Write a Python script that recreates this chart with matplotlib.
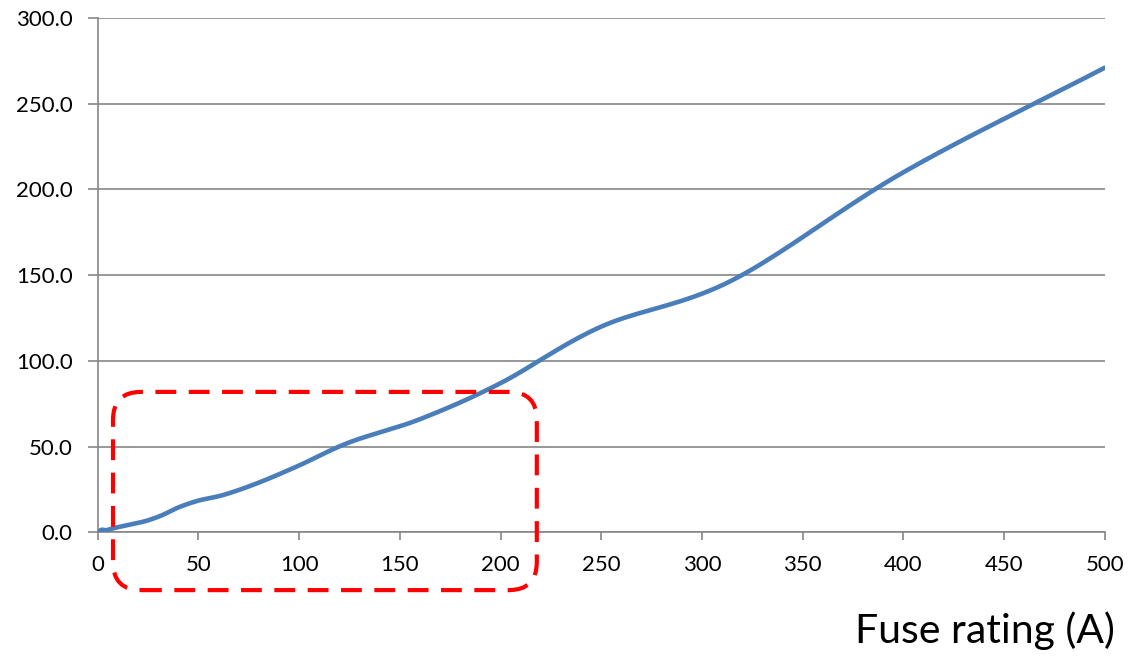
import numpy as np
import matplotlib.pyplot as plt
from matplotlib.patches import FancyBboxPatch
from matplotlib.transforms import IdentityTransform

# fuse ratings and values
fuse_rating = [0, 2, 4, 6, 10, 16, 20, 25, 32, 40, 50, 63, 80, 100, 125, 160, 200, 250, 315, 400, 500]
values = [0, 1.5, 1.2, 1.8, 3.0, 4.5, 5.5, 7.0, 10.0, 14.5, 18.5, 22.0, 29.0, 39.0, 52.5, 66.0, 87.0, 120.0, 147.0, 210.0, 271.0]
x_ticks = [0, 50, 100, 150, 200, 250, 300, 350, 400, 450, 500]
y_ticks = [0, 50, 100, 150, 200, 250, 300]
# highlighted region (data units)
box_x = (7.6, 218)
box_y = (-33.7, 81.9)


def smooth(x, y, n=20):
    """catmull-rom curve through the points, like excel's smoothed line"""
    x = np.asarray(x, float)
    y = np.asarray(y, float)
    px = np.concatenate([[2 * x[0] - x[1]], x, [2 * x[-1] - x[-2]]])
    py = np.concatenate([[2 * y[0] - y[1]], y, [2 * y[-1] - y[-2]]])
    out_x, out_y = [], []
    t = np.linspace(0, 1, n, endpoint=False)
    for i in range(1, len(px) - 2):
        for arr, out in ((px, out_x), (py, out_y)):
            p0, p1, p2, p3 = arr[i - 1], arr[i], arr[i + 1], arr[i + 2]
            out.extend(0.5 * ((2 * p1) + (-p0 + p2) * t + (2 * p0 - 5 * p1 + 4 * p2 - p3) * t ** 2
                              + (-p0 + 3 * p1 - 3 * p2 + p3) * t ** 3))
    out_x.append(x[-1])
    out_y.append(y[-1])
    return np.array(out_x), np.array(out_y)


plt.rcParams['font.family'] = ['Lato', 'DejaVu Sans']

fig = plt.figure(figsize=(11.32, 6.65), dpi=100)
ax = fig.add_axes([0.0863, 0.1995, 0.8897, 0.7735])

sx, sy = smooth(fuse_rating, values)
ax.plot(sx, sy, color='#4A7EBB', linewidth=3.3, solid_capstyle='round', zorder=3)

ax.set_xlim(0, 500)
ax.set_ylim(0, 300)
ax.set_xticks(x_ticks)
ax.set_yticks(y_ticks)
ax.set_yticklabels([f"{v:.1f}" for v in y_ticks])
ax.grid(axis='y', color='#868686', linewidth=1.2)
ax.set_axisbelow(True)
for s in ['top', 'right']:
    ax.spines[s].set_visible(False)
for s in ['left', 'bottom']:
    ax.spines[s].set_color('#868686')
    ax.spines[s].set_linewidth(1.2)
ax.tick_params(axis='both', colors='#868686', labelcolor='black', labelsize=16, width=1.2)
ax.tick_params(axis='y', length=7, pad=11)
ax.tick_params(axis='x', length=6, pad=10)

fig.text(0.985, 0.033, "Fuse rating (A)", fontsize=29.5, ha='right', va='baseline')

# red dashed rounded box, built in pixel space so the corners stay round
(x0, y0) = ax.transData.transform((box_x[0], box_y[0]))
(x1, y1) = ax.transData.transform((box_x[1], box_y[1]))
box = FancyBboxPatch((x0, y0), x1 - x0, y1 - y0,
                     boxstyle="round,pad=0,rounding_size=28",
                     transform=IdentityTransform(), fill=False,
                     edgecolor='#FF0000', linewidth=3.0,
                     linestyle=(0, (5, 3)), clip_on=False, zorder=4)
fig.patches.append(box)

fig.savefig("out.png", dpi=100)
